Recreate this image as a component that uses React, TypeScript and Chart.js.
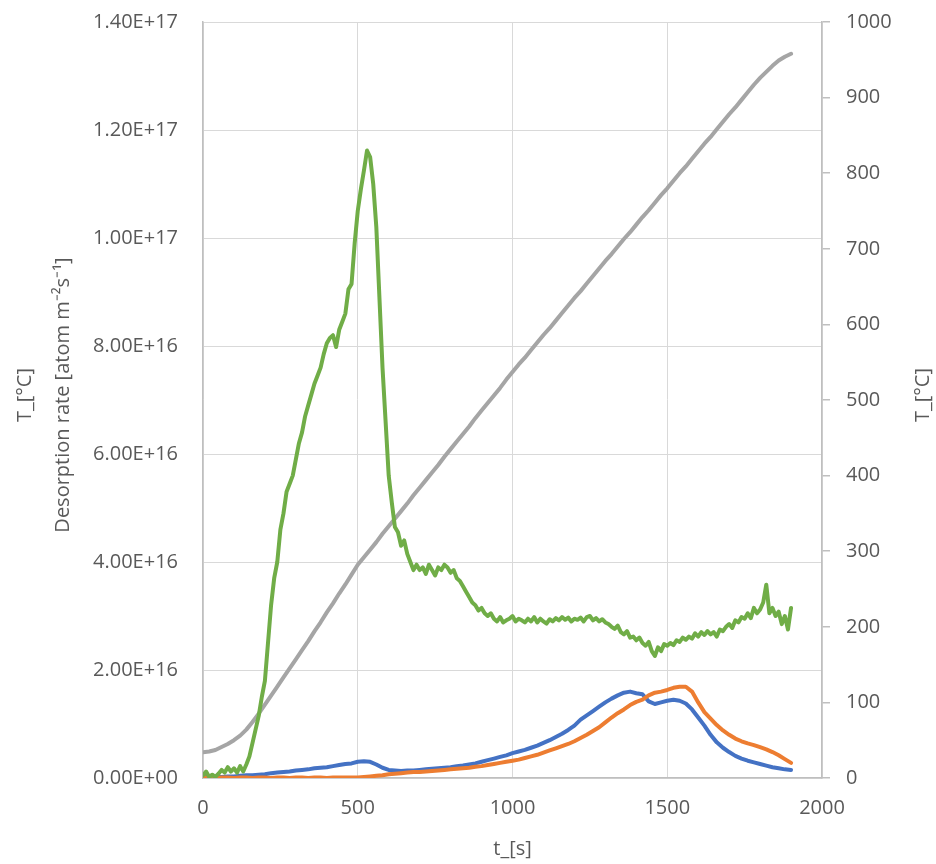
import React, { useEffect, useRef } from 'react';
import { Chart, registerables } from 'chart.js';

Chart.register(...registerables);

// ---- time grids [s] ----
const T10 = [
  0, 10, 20, 30, 40, 50, 60, 70, 80, 90,
  100, 110, 120, 130, 140, 150, 160, 170, 180, 190,
  200, 210, 220, 230, 240, 250, 260, 270, 280, 290,
  300, 310, 320, 330, 340, 350, 360, 370, 380, 390,
  400, 410, 420, 430, 440, 450, 460, 470, 480, 490,
  500, 510, 520, 530, 540, 550, 560, 570, 580, 590,
  600, 610, 620, 630, 640, 650, 660, 670, 680, 690,
  700, 710, 720, 730, 740, 750, 760, 770, 780, 790,
  800, 810, 820, 830, 840, 850, 860, 870, 880, 890,
  900, 910, 920, 930, 940, 950, 960, 970, 980, 990,
  1000, 1010, 1020, 1030, 1040, 1050, 1060, 1070, 1080, 1090,
  1100, 1110, 1120, 1130, 1140, 1150, 1160, 1170, 1180, 1190,
  1200, 1210, 1220, 1230, 1240, 1250, 1260, 1270, 1280, 1290,
  1300, 1310, 1320, 1330, 1340, 1350, 1360, 1370, 1380, 1390,
  1400, 1410, 1420, 1430, 1440, 1450, 1460, 1470, 1480, 1490,
  1500, 1510, 1520, 1530, 1540, 1550, 1560, 1570, 1580, 1590,
  1600, 1610, 1620, 1630, 1640, 1650, 1660, 1670, 1680, 1690,
  1700, 1710, 1720, 1730, 1740, 1750, 1760, 1770, 1780, 1790,
  1800, 1810, 1820, 1830, 1840, 1850, 1860, 1870, 1880, 1890,
  1900,
];

// green desorption rate [1e16 atom m^-2 s^-1]
const GREEN = [
  0.05, 0.12, 0.02, 0.06, 0.02, 0.08, 0.15, 0.10, 0.20, 0.12,
  0.18, 0.10, 0.22, 0.12, 0.25, 0.40, 0.65, 0.90, 1.15, 1.50,
  1.80, 2.50, 3.20, 3.70, 4.00, 4.60, 4.90, 5.30, 5.45, 5.60,
  5.90, 6.20, 6.40, 6.70, 6.90, 7.10, 7.30, 7.45, 7.60, 7.85,
  8.05, 8.15, 8.20, 7.98, 8.30, 8.45, 8.60, 9.05, 9.15, 9.90,
  10.50, 10.90, 11.25, 11.62, 11.50, 11.00, 10.20, 8.90, 7.60, 6.60,
  5.60, 5.10, 4.65, 4.55, 4.30, 4.40, 4.15, 4.00, 3.85, 3.95,
  3.85, 3.90, 3.78, 3.95, 3.85, 3.75, 3.90, 3.85, 3.95, 3.90,
  3.80, 3.85, 3.70, 3.65, 3.55, 3.45, 3.35, 3.25, 3.20, 3.10,
  3.15, 3.05, 3.00, 3.05, 2.95, 2.90, 2.98, 2.88, 2.92, 2.95,
  3.00, 2.90, 2.95, 2.92, 2.88, 2.95, 2.90, 2.98, 2.88, 2.95,
  2.90, 2.86, 2.94, 2.90, 2.96, 2.92, 2.98, 2.93, 2.97, 2.90,
  2.95, 2.93, 2.97, 2.90, 2.98, 3.00, 2.92, 2.96, 2.90, 2.94,
  2.88, 2.85, 2.80, 2.76, 2.82, 2.70, 2.66, 2.72, 2.60, 2.62,
  2.55, 2.60, 2.50, 2.45, 2.52, 2.35, 2.26, 2.42, 2.35, 2.48,
  2.45, 2.50, 2.46, 2.55, 2.52, 2.60, 2.56, 2.62, 2.58, 2.68,
  2.62, 2.70, 2.65, 2.72, 2.66, 2.70, 2.62, 2.75, 2.72, 2.80,
  2.85, 2.78, 2.92, 2.88, 2.98, 2.95, 3.05, 2.96, 3.15, 3.05,
  3.12, 3.25, 3.58, 3.05, 3.15, 3.00, 3.08, 2.85, 3.00, 2.75,
  3.15,
];

const T20 = [
  0, 20, 40, 60, 80, 100, 120, 140, 160, 180,
  200, 220, 240, 260, 280, 300, 320, 340, 360, 380,
  400, 420, 440, 460, 480, 500, 520, 540, 560, 580,
  600, 620, 640, 660, 680, 700, 720, 740, 760, 780,
  800, 820, 840, 860, 880, 900, 920, 940, 960, 980,
  1000, 1020, 1040, 1060, 1080, 1100, 1120, 1140, 1160, 1180,
  1200, 1220, 1240, 1260, 1280, 1300, 1320, 1340, 1360, 1380,
  1400, 1420, 1440, 1460, 1480, 1500, 1520, 1540, 1560, 1580,
  1600, 1620, 1640, 1660, 1680, 1700, 1720, 1740, 1760, 1780,
  1800, 1820, 1840, 1860, 1880, 1900,
];

// blue desorption rate [1e16]
const BLUE = [
  0.03, 0.02, 0.03, 0.02, 0.03, 0.03, 0.04, 0.05, 0.05, 0.06,
  0.07, 0.09, 0.10, 0.11, 0.12, 0.14, 0.15, 0.16, 0.18, 0.19,
  0.20, 0.22, 0.24, 0.26, 0.27, 0.30, 0.31, 0.30, 0.25, 0.19,
  0.15, 0.14, 0.13, 0.14, 0.14, 0.15, 0.16, 0.17, 0.18, 0.19,
  0.20, 0.22, 0.23, 0.25, 0.27, 0.30, 0.33, 0.36, 0.39, 0.42,
  0.46, 0.49, 0.52, 0.56, 0.60, 0.65, 0.70, 0.76, 0.82, 0.89,
  0.97, 1.08, 1.16, 1.24, 1.32, 1.40, 1.47, 1.53, 1.58, 1.60,
  1.57, 1.55, 1.42, 1.37, 1.40, 1.43, 1.45, 1.43, 1.38, 1.27,
  1.12, 0.97, 0.80, 0.66, 0.56, 0.48, 0.41, 0.36, 0.32, 0.29,
  0.26, 0.23, 0.20, 0.18, 0.16, 0.15,
];

// orange desorption rate [1e16]
const ORANGE = [
  0.01, 0.01, 0.00, 0.01, 0.01, 0.00, 0.01, 0.01, 0.00, 0.01,
  0.01, 0.00, 0.01, 0.01, 0.00, 0.01, 0.01, 0.00, 0.01, 0.01,
  0.00, 0.01, 0.01, 0.01, 0.01, 0.01, 0.02, 0.03, 0.04, 0.05,
  0.07, 0.08, 0.09, 0.10, 0.11, 0.11, 0.12, 0.13, 0.14, 0.15,
  0.16, 0.17, 0.18, 0.19, 0.21, 0.22, 0.24, 0.26, 0.28, 0.30,
  0.32, 0.34, 0.37, 0.40, 0.43, 0.47, 0.51, 0.55, 0.59, 0.63,
  0.68, 0.74, 0.80, 0.87, 0.94, 1.03, 1.12, 1.20, 1.27, 1.35,
  1.41, 1.45, 1.53, 1.58, 1.60, 1.63, 1.67, 1.69, 1.69, 1.60,
  1.40, 1.22, 1.10, 0.98, 0.88, 0.80, 0.73, 0.68, 0.64, 0.61,
  0.57, 0.53, 0.48, 0.42, 0.35, 0.28,
];

// temperature [°C] (right axis)
const TEMP = [
  34, 35, 37, 41, 45, 50, 56, 64, 74, 85,
  97, 109, 121, 133, 145, 157, 169, 181, 194, 206,
  219, 231, 244, 256, 269, 282, 292, 302, 312, 323,
  333, 343, 353, 363, 374, 384, 394, 404, 414, 425,
  435, 445, 455, 465, 476, 486, 496, 506, 516, 527,
  537, 547, 556, 566, 576, 586, 595, 605, 615, 625,
  635, 644, 654, 664, 674, 684, 693, 703, 713, 722,
  732, 742, 751, 761, 771, 780, 790, 800, 809, 819,
  829, 839, 848, 858, 868, 878, 887, 897, 907, 917,
  926, 934, 942, 949, 954, 958,
];

const LEFT_TICKS = ['0.00E+00', '2.00E+16', '4.00E+16', '6.00E+16', '8.00E+16', '1.00E+17', '1.20E+17', '1.40E+17'];
const RIGHT_TICKS = ['0', '100', '200', '300', '400', '500', '600', '700', '800', '900', '1000'];
const X_TICKS = ['0', '500', '1000', '1500', '2000'];
const X_TITLE = 't_[s]';
const LEFT_TITLES = ['T_[°C]', 'Desorption rate [atom m⁻²s⁻¹]'];
const RIGHT_TITLE = 'T_[°C]';
const RATE_UNIT = 1e16;

const TEXT = '#595959';
const FONT = "'Open Sans', sans-serif";

const titlePlugin = {
  id: 'axisTitles',
  afterDraw(chart: any) {
    const { ctx, chartArea } = chart;
    const cy = (chartArea.top + chartArea.bottom) / 2 - 5;
    ctx.save();
    ctx.fillStyle = TEXT;
    ctx.font = `20px ${FONT}`;
    ctx.textAlign = 'center';
    ctx.textBaseline = 'middle';
    const drawV = (text: string, x: number) => {
      ctx.save();
      ctx.translate(x, cy);
      ctx.rotate(-Math.PI / 2);
      ctx.fillText(text, 0, 0);
      ctx.restore();
    };
    drawV(LEFT_TITLES[0], 25);
    drawV(LEFT_TITLES[1], 63);
    drawV(RIGHT_TITLE, 923);
    ctx.fillText(X_TITLE, (chartArea.left + chartArea.right) / 2, 849);
    ctx.restore();
  },
};

const fitVertical = (width: number) => (s: any) => {
  s.width = width;
  s.paddingTop = 0;
  s.paddingBottom = 0;
};

export default function App() {
  const ref = useRef<HTMLCanvasElement>(null);
  useEffect(() => {
    let chart: Chart | null = null;
    let cancelled = false;
    const build = () => {
      if (cancelled || !ref.current) return;
      chart = new Chart(ref.current, {
        type: 'line',
        data: {
          datasets: [
            {
              label: 'green',
              data: T10.map((t, i) => ({ x: t, y: GREEN[i] * RATE_UNIT })),
              borderColor: '#70AD47',
              yAxisID: 'y',
            },
            {
              label: 'T',
              data: T20.map((t, i) => ({ x: t, y: TEMP[i] })),
              borderColor: '#A5A5A5',
              yAxisID: 'y2',
            },
            {
              label: 'orange',
              data: T20.map((t, i) => ({ x: t, y: ORANGE[i] * RATE_UNIT })),
              borderColor: '#ED7D31',
              yAxisID: 'y',
            },
            {
              label: 'blue',
              data: T20.map((t, i) => ({ x: t, y: BLUE[i] * RATE_UNIT })),
              borderColor: '#4472C4',
              yAxisID: 'y',
            },
          ],
        },
        options: {
          animation: false,
          responsive: false,
          layout: { padding: { top: 22, left: 0, right: 0, bottom: 0 } },
          plugins: { legend: { display: false }, tooltip: { enabled: false } },
          elements: {
            point: { radius: 0 },
            line: { borderWidth: 4, tension: 0, borderCapStyle: 'round', borderJoinStyle: 'round', fill: false },
          },
          scales: {
            x: {
              type: 'linear',
              min: 0,
              max: 2000,
              ticks: {
                stepSize: 500,
                padding: 18,
                color: TEXT,
                font: { family: FONT, size: 20 },
                callback: (v: any) => X_TICKS[Math.round(Number(v) / 500)],
              },
              grid: { color: '#d9d9d9', lineWidth: 1, drawTicks: false },
              border: { color: '#bfbfbf', width: 1.5 },
              afterFit: (s: any) => { s.height = 86; s.paddingLeft = 0; s.paddingRight = 0; },
            },
            y: {
              position: 'left',
              min: 0,
              max: 1.4e17,
              ticks: {
                stepSize: 2e16,
                padding: 25,
                color: TEXT,
                font: { family: FONT, size: 20 },
                callback: (v: any) => LEFT_TICKS[Math.round(Number(v) / 2e16)],
              },
              grid: { color: '#d9d9d9', lineWidth: 1, drawTicks: false },
              border: { color: '#bfbfbf', width: 1.5 },
              afterFit: fitVertical(203),
            },
            y2: {
              position: 'right',
              min: 0,
              max: 1000,
              ticks: {
                stepSize: 100,
                padding: 16,
                color: TEXT,
                font: { family: FONT, size: 20 },
                callback: (v: any) => RIGHT_TICKS[Math.round(Number(v) / 100)],
              },
              grid: { drawOnChartArea: false, drawTicks: true, tickLength: 8, color: '#bfbfbf', lineWidth: 1.5 },
              border: { color: '#bfbfbf', width: 1.5 },
              afterFit: fitVertical(114),
            },
          },
        },
        plugins: [titlePlugin],
      } as any);
    };
    const fonts = (document as any).fonts;
    if (fonts && fonts.load) {
      fonts.load(`20px 'Open Sans'`).then(build, build);
    } else {
      build();
    }
    return () => {
      cancelled = true;
      if (chart) chart.destroy();
    };
  }, []);
  return (
    <canvas
      ref={ref}
      width={936}
      height={864}
      style={{ position: 'absolute', left: 0, top: 0, width: 936, height: 864 }}
    />
  );
}
